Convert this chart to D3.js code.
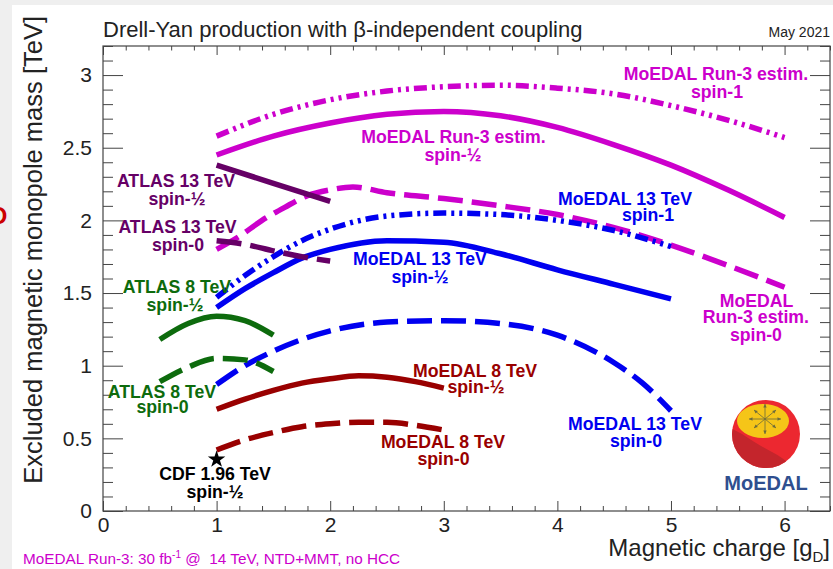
<!DOCTYPE html>
<html><head><meta charset="utf-8">
<script src="https://cdn.jsdelivr.net/npm/d3@7"></script>
<style>
body{margin:0;background:#efefef;}
svg{display:block;font-family:"Liberation Sans",Arial,Helvetica,sans-serif;}
</style>
</head><body>
<svg id="c" width="833" height="569"></svg>
<script>
// ---------- data ----------
const xTicks = [0, 1, 2, 3, 4, 5, 6];
const yTicks = [0, 0.5, 1, 1.5, 2, 2.5, 3];

const run3Spin1   = [[1,2.58],[1.5,2.73],[2,2.83],[2.5,2.89],[3,2.92],[3.5,2.93],[4,2.91],[4.5,2.87],[5,2.79],[5.5,2.69],[6,2.57]];
const run3SpinHalf= [[1,2.45],[1.5,2.58],[2,2.67],[2.5,2.73],[3,2.75],[3.5,2.72],[4,2.64],[4.5,2.52],[5,2.38],[5.5,2.21],[6,2.02]];
const run3Spin0   = [[1,1.80],[1.2,1.89],[1.4,2.00],[1.6,2.09],[1.8,2.17],[2,2.21],[2.2,2.23],[2.5,2.19],[3,2.15],[3.5,2.10],[4,2.04],[4.5,1.95],[5,1.83],[5.5,1.69],[6,1.54]];
const m13Spin1    = [[1,1.47],[1.25,1.62],[1.5,1.75],[1.75,1.86],[2,1.94],[2.5,2.03],[3,2.05],[3.5,2.04],[4,2.00],[4.5,1.93],[5,1.82]];
const m13SpinHalf = [[1,1.40],[1.25,1.53],[1.5,1.64],[1.75,1.74],[2,1.80],[2.5,1.86],[3,1.85],[3.5,1.77],[4,1.66],[4.5,1.56],[5,1.46]];
const m13Spin0    = [[1,0.87],[1.25,1.00],[1.5,1.10],[1.75,1.18],[2,1.24],[2.5,1.30],[3,1.31],[3.5,1.29],[4,1.21],[4.5,1.02],[4.75,0.88],[5,0.69]];
const m8SpinHalf  = [[1,0.70],[1.25,0.77],[1.5,0.83],[1.75,0.88],[2,0.91],[2.25,0.93],[2.5,0.92],[2.75,0.89],[3,0.845]];
const m8Spin0     = [[1,0.42],[1.25,0.49],[1.5,0.54],[1.75,0.58],[2,0.60],[2.25,0.61],[2.5,0.61],[2.75,0.59],[3,0.557]];
const a13SpinHalf = [[1,2.38],[1.5,2.255],[2,2.13]];
const a13Spin0    = [[1,1.86],[1.25,1.835],[1.5,1.79],[1.75,1.75],[2,1.72]];
const a8SpinHalf  = [[0.5,1.18],[0.75,1.29],[1,1.34],[1.25,1.31],[1.5,1.21]];
const a8Spin0     = [[0.5,0.89],[0.75,0.99],[1,1.05],[1.25,1.04],[1.5,0.96]];
const cdfPoint    = [[1,0.355]];

// label lines: text, x (g_D), y (TeV)
const labelTexts = ["MoEDAL Run-3 estim.","spin-1","MoEDAL Run-3 estim.","spin-½","MoEDAL 13 TeV","spin-1",
  "ATLAS 13 TeV","spin-½","ATLAS 13 TeV","spin-0","MoEDAL 13 TeV","spin-½","ATLAS 8 TeV","spin-½",
  "MoEDAL","Run-3 estim.","spin-0","MoEDAL 8 TeV","spin-½","ATLAS 8 TeV","spin-0","MoEDAL 13 TeV","spin-0",
  "MoEDAL 8 TeV","spin-0","CDF 1.96 TeV","spin-½"];
const labelX = [5.396,5.405,3.085,3.081,4.595,4.798,0.643,0.651,0.656,0.660,2.790,2.790,0.651,0.634,
  5.753,5.748,5.748,3.275,3.283,0.519,0.524,4.683,4.692,2.993,2.997,0.986,0.986];
const labelY = [2.964,2.840,2.531,2.411,2.105,1.994,2.230,2.105,1.910,1.792,1.692,1.572,1.497,1.376,
  1.405,1.291,1.171,0.924,0.812,0.777,0.671,0.557,0.442,0.433,0.316,0.213,0.089];
const labelGroup = ["mag","mag","mag","mag","blue","blue","purple","purple","purple","purple","blue","blue","green","green",
  "mag","mag","mag","red","red","green","green","blue","blue","red","red","black","black"];

// ---------- styles ----------
const C = {mag:"#cc00cc", blue:"#0000f0", red:"#990000", green:"#0d6b0d", purple:"#660066", black:"#000"};
const DASH = "25 9", DDOT = "13 5 3 5 3 5";

const svg = d3.select("#c");
svg.append("rect").attr("x",12).attr("y",5).attr("width",833).attr("height",569).attr("fill","#fff");
svg.append("text").attr("x",-10).attr("y",224).attr("font-size",24).attr("font-weight","bold").attr("fill","#cc0000").text("D");

const x = d3.scaleLinear().domain([0,6.4]).range([103,830]);
const y = d3.scaleLinear().domain([0,3.2]).range([511,46]);

// ---------- axes ----------
const xMinor = d3.range(0,33).map(i=>i*0.2).filter(v=>Math.abs(v-Math.round(v))>1e-6);
const yMinor = d3.range(0,33).map(i=>i/10).filter((v,i)=>i%5!==0);
const axCol = "#444";
function addAxis(axis, tr, fs){
  const g = svg.append("g").attr("transform",tr).call(axis);
  g.select(".domain").remove();
  g.selectAll("line").attr("stroke",axCol).attr("stroke-width",1);
  g.selectAll("text").attr("font-size",fs||21).attr("fill","#222").attr("font-family","Liberation Sans, Arial, sans-serif");
  g.attr("font-family",null).attr("font-size",null);
  return g;
}
addAxis(d3.axisBottom(x).tickValues(xTicks).tickSize(-10).tickPadding(6).tickFormat(d3.format("d")), `translate(0,${y(0)})`);
addAxis(d3.axisBottom(x).tickValues(xMinor).tickSize(-5).tickFormat(""), `translate(0,${y(0)})`);
addAxis(d3.axisTop(x).tickValues(xTicks).tickSize(-9).tickFormat(""), `translate(0,${y(3.2)})`);
addAxis(d3.axisTop(x).tickValues(xMinor).tickSize(-4.5).tickFormat(""), `translate(0,${y(3.2)})`);
addAxis(d3.axisLeft(y).tickValues(yTicks).tickSize(-20).tickPadding(11).tickFormat(d=>d===0?"0":String(d)), `translate(${x(0)},0)`);
addAxis(d3.axisLeft(y).tickValues(yMinor).tickSize(-10).tickFormat(""), `translate(${x(0)},0)`);
addAxis(d3.axisRight(y).tickValues(yTicks).tickSize(-20).tickFormat(""), `translate(${x(6.4)},0)`);
addAxis(d3.axisRight(y).tickValues(yMinor).tickSize(-10).tickFormat(""), `translate(${x(6.4)},0)`);
svg.append("rect").attr("x",x(0)).attr("y",y(3.2)).attr("width",x(6.4)-x(0)).attr("height",y(0)-y(3.2))
  .attr("fill","none").attr("stroke",axCol).attr("stroke-width",1.2);

// ---------- curves ----------
const series = [
  {d:run3Spin1, c:C.mag, dash:DDOT},
  {d:run3SpinHalf, c:C.mag, dash:null},
  {d:run3Spin0, c:C.mag, dash:DASH},
  {d:m13Spin1, c:C.blue, dash:DDOT},
  {d:m13SpinHalf, c:C.blue, dash:null},
  {d:m13Spin0, c:C.blue, dash:DASH},
  {d:m8SpinHalf, c:C.red, dash:null},
  {d:m8Spin0, c:C.red, dash:DASH},
  {d:a13SpinHalf, c:C.purple, dash:null},
  {d:a13Spin0, c:C.purple, dash:DASH},
  {d:a8SpinHalf, c:C.green, dash:null},
  {d:a8Spin0, c:C.green, dash:DASH}
];
const line = d3.line().x(d=>x(d[0])).y(d=>y(d[1])).curve(d3.curveMonotoneX);
svg.append("g").selectAll("path").data(series).join("path")
  .attr("d",s=>line(s.d)).attr("fill","none").attr("stroke",s=>s.c).attr("stroke-width",5.5)
  .attr("stroke-dasharray",s=>s.dash).attr("stroke-linecap","butt");

// CDF star
svg.append("g").selectAll("path").data(cdfPoint).join("path")
  .attr("transform",d=>`translate(${x(d[0])},${y(d[1])})`)
  .attr("d",d3.symbol(d3.symbolStar,95)).attr("fill","#000");

// ---------- labels ----------
svg.append("g").selectAll("text").data(labelTexts).join("text")
  .attr("x",(t,i)=>x(labelX[i])).attr("y",(t,i)=>y(labelY[i]))
  .attr("text-anchor","middle").attr("font-weight","bold").attr("font-size",17.7)
  .attr("fill",(t,i)=>C[labelGroup[i]]).text(t=>t);

// ---------- titles ----------
svg.append("text").attr("x",103).attr("y",37).attr("font-size",22).attr("fill","#222")
  .text("Drell-Yan production with β-independent coupling");
svg.append("text").attr("x",830).attr("y",37).attr("font-size",14).attr("fill","#222").attr("text-anchor","end").text("May 2021");

svg.append("text").attr("transform","translate(42,16) rotate(-90)").attr("text-anchor","end")
  .attr("font-size",25.5).attr("fill","#222").text("Excluded magnetic monopole mass [TeV]");

const xl = svg.append("text").attr("x",830).attr("y",556).attr("text-anchor","end").attr("font-size",24).attr("fill","#222");
xl.append("tspan").text("Magnetic charge [g");
xl.append("tspan").attr("dy",6).attr("font-size",15).text("D");
xl.append("tspan").attr("dy",-6).text("]");

const cap = svg.append("text").attr("x",23).attr("y",564).attr("font-size",15.3).attr("fill",C.mag).style("white-space","pre");
cap.append("tspan").text("MoEDAL Run-3: 30 fb");
cap.append("tspan").attr("dy",-6).attr("font-size",10).text("-1");
cap.append("tspan").attr("dy",6).text(" @  14 TeV, NTD+MMT, no HCC");

// ---------- logo ----------
const lg = svg.append("g");
lg.append("clipPath").attr("id","lc").append("circle").attr("cx",766).attr("cy",434).attr("r",34);
lg.append("circle").attr("cx",766).attr("cy",434).attr("r",34).attr("fill","#ec2830");
lg.append("path").attr("clip-path","url(#lc)").attr("fill","#c4252c")
  .attr("d","M 725 425 L 742 434 Q 760 446 772 452 Q 788 460 796 472 L 720 475 Z");
lg.append("ellipse").attr("cx",763).attr("cy",421).attr("rx",26).attr("ry",17).attr("fill","#f5c518");
const ac = [765,419];
const arr = [[16,0],[-16,0],[0,-15],[0,15],[11,-9],[-11,-9],[11,9],[-11,9]];
arr.forEach(a=>{
  lg.append("line").attr("x1",ac[0]).attr("y1",ac[1]).attr("x2",ac[0]+a[0]).attr("y2",ac[1]+a[1])
    .attr("stroke","#6b6a3c").attr("stroke-width",0.8);
  const ang = Math.atan2(a[1],a[0]);
  const tx = ac[0]+a[0], ty = ac[1]+a[1];
  const p = [[tx,ty],[tx-3.5*Math.cos(ang)+1.7*Math.sin(ang), ty-3.5*Math.sin(ang)-1.7*Math.cos(ang)],
             [tx-3.5*Math.cos(ang)-1.7*Math.sin(ang), ty-3.5*Math.sin(ang)+1.7*Math.cos(ang)]];
  lg.append("path").attr("d","M"+p.map(q=>q.join(",")).join("L")+"Z").attr("fill","#6b6a3c");
});
lg.append("text").attr("x",766).attr("y",490).attr("text-anchor","middle").attr("font-weight","bold")
  .attr("font-size",20).attr("fill","#2f4f8f").text("MoEDAL");
</script>
</body></html>
